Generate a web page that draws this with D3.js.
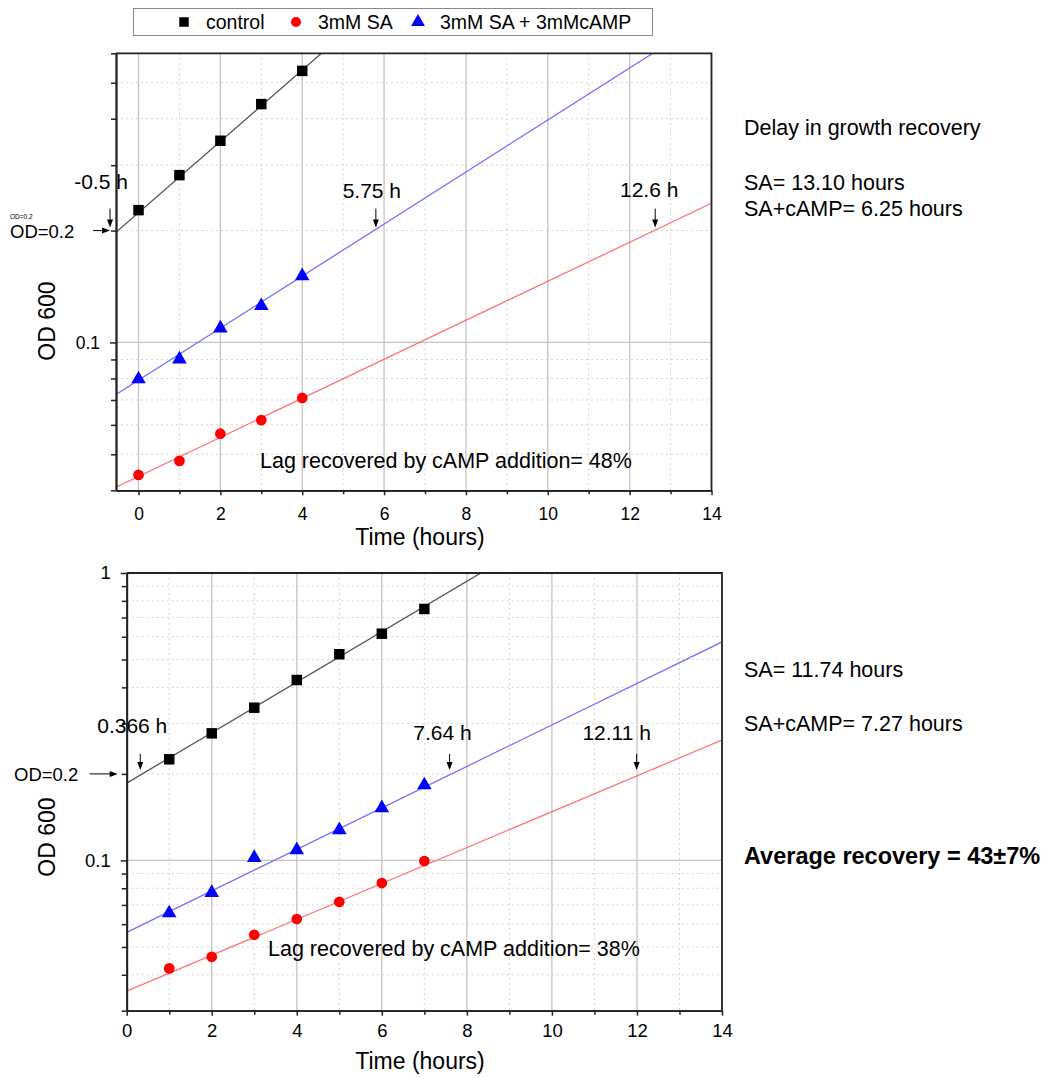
<!DOCTYPE html>
<html>
<head>
<meta charset="utf-8">
<script src="https://cdn.jsdelivr.net/npm/d3@7"></script>
<style>
  body { margin: 0; background: #fff; }
  text { font-family: "Liberation Sans", Arial, sans-serif; fill: #000; }
</style>
</head>
<body>
<svg width="1049" height="1077"></svg>
<script>
// series order: control, 3mM SA, 3mM SA + 3mMcAMP
const seriesNames = ["control", "3mM SA", "3mM SA + 3mMcAMP"];
const markerColors = ["#000000", "#ff0000", "#0000ff"];
const fitColors = ["#555555", "#ff7373", "#7373ff"];
const markerTypes = [d3.symbolSquare, d3.symbolCircle, d3.symbolTriangle];

// experiment 1 (top)
const timeA = [0, 1, 2, 3, 4];
const controlA = [0.227, 0.282, 0.349, 0.438, 0.538];
const saA = [0.0440, 0.0480, 0.0568, 0.0618, 0.0709];
const campA = [0.0797, 0.0901, 0.1092, 0.1254, 0.1510];
const lagA = [-0.5, 12.6, 5.75];        // time (h) where the fit reaches OD=0.2
const rateA = [0.096, 0.0525, 0.070];   // fit slope, log10(OD) per hour

// experiment 2 (bottom)
const timeB = [1, 2, 3, 4, 5, 6, 7];
const controlB = [0.2248, 0.2768, 0.3399, 0.4243, 0.5215, 0.6150, 0.7496];
const saB = [0.0421, 0.0462, 0.0551, 0.0625, 0.0717, 0.0834, 0.0995];
const campB = [0.0656, 0.0772, 0.1022, 0.1087, 0.1276, 0.1522, 0.1829];
const lagB = [0.366, 12.11, 7.64];
const rateB = [0.0878, 0.0624, 0.0722];

const lagTextA = "Lag recovered by cAMP addition= 48%";
const lagTextB = "Lag recovered by cAMP addition= 38%";
const notesA = ["Delay in growth recovery", "SA= 13.10 hours", "SA+cAMP= 6.25 hours"];
const notesB = ["SA= 11.74 hours", "SA+cAMP= 7.27 hours"];
const summary = "Average recovery = 43\u00b17%";

const svg = d3.select("svg");

function drawPanel(p) {
  const x = d3.scaleLinear().domain(p.xDomain).range([p.left, p.right]);
  const y = d3.scaleLog().domain(p.yDomain).range([p.bottom, p.top]);
  const g = svg.append("g");

  g.append("clipPath").attr("id", "clip" + p.id)
    .append("rect")
    .attr("x", p.left).attr("y", p.top)
    .attr("width", p.right - p.left).attr("height", p.bottom - p.top);

  const hours = d3.range(Math.ceil(p.xDomain[0]), p.xDomain[1] + 1);
  const xMajor = hours.filter(h => h % 2 === 0);
  const xMinor = hours.filter(h => h % 2 !== 0);
  const isDecade = v => Math.abs(Math.log10(v) - Math.round(Math.log10(v))) < 1e-9;
  const yAll = y.ticks();
  const yMajor = yAll.filter(isDecade);
  const yMinor = yAll.filter(v => !isDecade(v));

  // grid
  const grid = g.append("g").attr("fill", "none");
  grid.selectAll("line.gx")
    .data(hours.filter(h => x(h) > p.left + 1 && x(h) < p.right - 1))
    .join("line")
    .attr("class", "gx")
    .attr("x1", d => x(d)).attr("x2", d => x(d))
    .attr("y1", p.top).attr("y2", p.bottom)
    .attr("stroke", d => d % 2 === 0 ? "#c4c4c4" : "#d4d4d4")
    .attr("stroke-width", d => d % 2 === 0 ? 1.3 : 1)
    .attr("stroke-dasharray", d => d % 2 === 0 ? null : "2,3");
  grid.selectAll("line.gy")
    .data(yAll.filter(v => y(v) > p.top + 1 && y(v) < p.bottom - 1))
    .join("line")
    .attr("class", "gy")
    .attr("x1", p.left).attr("x2", p.right)
    .attr("y1", d => y(d)).attr("y2", d => y(d))
    .attr("stroke", d => isDecade(d) ? "#c4c4c4" : "#d4d4d4")
    .attr("stroke-width", d => isDecade(d) ? 1.3 : 1)
    .attr("stroke-dasharray", d => isDecade(d) ? null : "2,3");

  // fitted lines
  g.append("g").attr("clip-path", `url(#clip${p.id})`)
    .selectAll("path")
    .data(d3.range(3))
    .join("path")
    .attr("fill", "none")
    .attr("stroke", i => fitColors[i])
    .attr("stroke-width", 1.3)
    .attr("d", i => d3.line()(p.xDomain.map(t =>
      [x(t), y(0.2 * Math.pow(10, p.rates[i] * (t - p.lags[i])))])));

  // axes
  const styleAxis = a => {
    a.select(".domain").attr("stroke", "#222").attr("stroke-width", 1.8);
    a.selectAll(".tick line").attr("stroke", "#222").attr("stroke-width", 1.5);
    a.selectAll("text").style("font-size", p.tickFont + "px")
      .style("font-family", "'Liberation Sans', Arial, sans-serif");
  };
  g.append("g").attr("transform", `translate(0,${p.bottom})`)
    .call(d3.axisBottom(x).tickValues(xMinor).tickSize(4).tickSizeOuter(0).tickFormat(""))
    .call(styleAxis);
  g.append("g").attr("transform", `translate(0,${p.bottom})`)
    .call(d3.axisBottom(x).tickValues(xMajor).tickSize(5).tickSizeOuter(0)
      .tickPadding(p.xPad).tickFormat(d3.format("d")))
    .call(styleAxis);
  g.append("g").attr("transform", `translate(${p.left},0)`)
    .call(d3.axisLeft(y).tickValues(yMinor).tickSize(5).tickSizeOuter(0).tickFormat(""))
    .call(styleAxis);
  g.append("g").attr("transform", `translate(${p.left},0)`)
    .call(d3.axisLeft(y).tickValues(yMajor).tickSize(6).tickSizeOuter(0)
      .tickPadding(10).tickFormat(d3.format("~g")))
    .call(styleAxis);

  // frame top + right
  g.append("path")
    .attr("d", `M${p.left},${p.top}H${p.right}V${p.bottom}`)
    .attr("fill", "none").attr("stroke", "#222").attr("stroke-width", 1.8);

  // markers
  p.series.forEach((vals, i) => {
    g.append("g").selectAll("path")
      .data(vals.map((v, k) => [p.time[k], v]))
      .join("path")
      .attr("transform", d => `translate(${x(d[0])},${y(d[1])})`)
      .attr("fill", markerColors[i])
      .attr("d", d3.symbol().type(markerTypes[i]).size([110, 90, 92][i]));
  });

  // lag annotations
  const y02 = y(0.2);
  p.lags.forEach((lag, i) => {
    const ax = x(lag) + p.arrowDx[i];
    const tip = y02 - p.tipGap;
    g.append("line")
      .attr("x1", ax).attr("x2", ax)
      .attr("y1", tip - p.stem).attr("y2", tip - 5)
      .attr("stroke", "#000").attr("stroke-width", 1);
    g.append("path")
      .attr("d", `M${ax - 3},${tip - 8}L${ax + 3},${tip - 8}L${ax},${tip}Z`)
      .attr("fill", "#000");
    g.append("text")
      .attr("x", ax + p.labelDx[i]).attr("y", y02 + p.labelDy[i])
      .attr("text-anchor", "middle")
      .style("font-size", "21px")
      .text(`${lag} h`);
  });

  // OD=0.2 marker
  g.append("text").attr("x", p.odX).attr("y", y02 + 7)
    .style("font-size", "18.5px").text("OD=0.2");
  g.append("line")
    .attr("x1", p.left - p.odArrow[0]).attr("x2", p.left - p.odArrow[1] - 6)
    .attr("y1", y02).attr("y2", y02)
    .attr("stroke", "#000").attr("stroke-width", 1);
  g.append("path")
    .attr("d", `M${p.left - p.odArrow[1] - 8},${y02 - 3}L${p.left - p.odArrow[1] - 8},${y02 + 3}L${p.left - p.odArrow[1]},${y02}Z`)
    .attr("fill", "#000");
  if (p.tinyOD) {
    g.append("text").attr("x", p.odX).attr("y", y02 - 12)
      .style("font-size", "6.5px").text("OD=0.2");
  }

  // lag recovery text
  g.append("text").attr("x", p.lagText[0]).attr("y", p.lagText[1])
    .style("font-size", "21.5px").text(p.lagText[2]);

  // axis titles
  g.append("text")
    .attr("transform", `translate(${p.yTitle[0]},${p.yTitle[1]}) rotate(-90)`)
    .attr("text-anchor", "middle")
    .style("font-size", "23px")
    .text("OD 600");
  g.append("text")
    .attr("x", 420).attr("y", p.xTitleY)
    .attr("text-anchor", "middle")
    .style("font-size", "23px")
    .text("Time (hours)");
}

drawPanel({
  id: "A",
  left: 116, right: 711.5, top: 53.3, bottom: 490.3,
  xDomain: [-0.55, 14], yDomain: [0.04, 0.6],
  time: timeA, series: [controlA, saA, campA],
  lags: lagA, rates: rateA,
  tickFont: 17.5, xPad: 12,
  arrowDx: [-8, 1, 2], labelDx: [-9, -6, -4], labelDy: [-42, -34, -33],
  tipGap: 3, stem: 19,
  odX: 10, odArrow: [23, 6], tinyOD: true,
  lagText: [260, 468, lagTextA],
  yTitle: [55, 321], xTitleY: 545
});

drawPanel({
  id: "B",
  left: 126.7, right: 722, top: 573, bottom: 1010.7,
  xDomain: [0, 14], yDomain: [0.03, 1],
  time: timeB, series: [controlB, saB, campB],
  lags: lagB, rates: rateB,
  tickFont: 18.5, xPad: 8,
  arrowDx: [-2, -5, -2], labelDx: [-8, -20, -7], labelDy: [-41, -34, -34],
  tipGap: 4, stem: 16,
  odX: 14, odArrow: [37, 9], tinyOD: false,
  lagText: [268, 956, lagTextB],
  yTitle: [55, 837], xTitleY: 1069
});

// legend
const legend = svg.append("g");
legend.append("rect")
  .attr("x", 133.5).attr("y", 8.5).attr("width", 519).attr("height", 27)
  .attr("fill", "#fff").attr("stroke", "#888").attr("stroke-width", 1);
const legendX = [184, 296, 418];
seriesNames.forEach((name, i) => {
  legend.append("path")
    .attr("transform", `translate(${legendX[i]},22)`)
    .attr("fill", markerColors[i])
    .attr("d", d3.symbol().type(markerTypes[i]).size([90, 80, 84][i]));
  legend.append("text")
    .attr("x", legendX[i] + 22).attr("y", 29)
    .style("font-size", "19.5px")
    .text(name);
});

// side notes
const side = svg.append("g").style("font-size", "21.5px");
side.selectAll("text.a").data(notesA).join("text")
  .attr("class", "a")
  .attr("x", 744).attr("y", (d, i) => [135, 190, 216][i])
  .text(d => d);
side.selectAll("text.b").data(notesB).join("text")
  .attr("class", "b")
  .attr("x", 744).attr("y", (d, i) => [677, 731][i])
  .text(d => d);
svg.append("text")
  .attr("x", 744).attr("y", 864)
  .style("font-size", "23.5px").style("font-weight", "bold")
  .text(summary);
</script>
</body>
</html>
